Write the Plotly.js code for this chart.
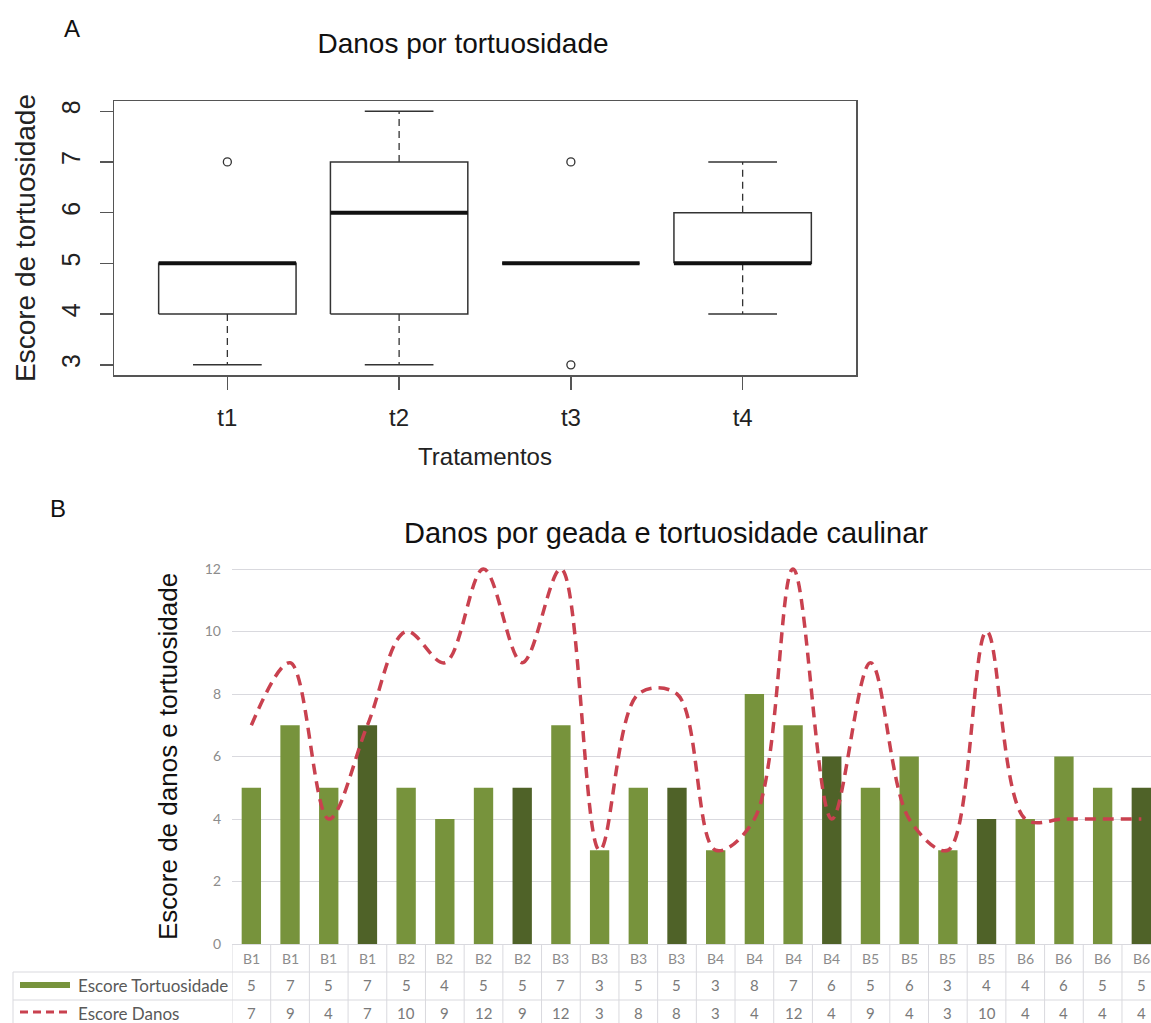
<!DOCTYPE html>
<html>
<head>
<meta charset="utf-8">
<script src="https://cdn.plot.ly/plotly-3.0.1.min.js"></script>
<style>
  html, body { margin: 0; padding: 0; background: #fff; overflow: hidden; }
  #chart { width: 1151px; height: 1023px; }
</style>
</head>
<body>
<div id="chart"></div>
<script>
// ---- Panel A: box-plot summaries of the tortuosity score per treatment ----
const treatments  = ['t1', 't2', 't3', 't4'];
const whiskerLow  = [3, 3, 5, 4];
const quartile1   = [4, 4, 5, 5];
const medians     = [5, 6, 5, 5];
const quartile3   = [5, 7, 5, 6];
const whiskerHigh = [5, 8, 5, 7];
const outlierTreatment = ['t1', 't3', 't3'];
const outlierValues    = [7, 3, 7];
const boxTicks = [3, 4, 5, 6, 7, 8];

// ---- Panel B: frost damage and stem tortuosity per plot ----
const blocks = ['B1','B1','B1','B1','B2','B2','B2','B2','B3','B3','B3','B3',
                'B4','B4','B4','B4','B5','B5','B5','B5','B6','B6','B6','B6'];
const escoreTortuosidade = [5,7,5,7,5,4,5,5,7,3,5,5,3,8,7,6,5,6,3,4,4,6,5,5];
const escoreDanos        = [7,9,4,7,10,9,12,9,12,3,8,8,3,4,12,4,9,4,3,10,4,4,4,4];
const damageTicks = [0, 2, 4, 6, 8, 10, 12];

// each block holds the four treatments in order
const barTreatment = blocks.map((b, i) => treatments[i % treatments.length]);
const treatmentColor = { t1: '#77933C', t2: '#77933C', t3: '#77933C', t4: '#4F6228' };

// ---- page geometry helpers (pixels -> paper fractions) ----
const W = 1151, H = 1023;
const px = v => v / W;
const py = v => 1 - v / H;

const SANS = 'Liberation Sans, Arial, sans-serif';
const CAL = 'Lato, Carlito, Calibri, sans-serif';

// ---- build box-plot geometry from the summaries ----
const BOX_HALF = 0.4, CAP_HALF = 0.2;
const boxX = [], boxY = [], medX = [], medY = [], whX = [], whY = [], capX = [], capY = [];
treatments.forEach((t, i) => {
  const c = i + 1;
  boxX.push(c - BOX_HALF, c + BOX_HALF, c + BOX_HALF, c - BOX_HALF, c - BOX_HALF, null);
  boxY.push(quartile1[i], quartile1[i], quartile3[i], quartile3[i], quartile1[i], null);
  medX.push(c - BOX_HALF, c + BOX_HALF, null);
  medY.push(medians[i], medians[i], null);
  whX.push(c, c, null, c, c, null);
  whY.push(quartile1[i], whiskerLow[i], null, quartile3[i], whiskerHigh[i], null);
  capX.push(c - CAP_HALF, c + CAP_HALF, null, c - CAP_HALF, c + CAP_HALF, null);
  capY.push(whiskerLow[i], whiskerLow[i], null, whiskerHigh[i], whiskerHigh[i], null);
});
const outX = outlierTreatment.map(t => treatments.indexOf(t) + 1);

const idx = blocks.map((b, i) => i);

const traces = [
  { type: 'scatter', mode: 'lines', x: whX, y: whY, xaxis: 'x', yaxis: 'y',
    line: { color: '#333', width: 1.3, dash: '7px,5px' }, hoverinfo: 'skip', showlegend: false },
  { type: 'scatter', mode: 'lines', x: capX, y: capY, xaxis: 'x', yaxis: 'y',
    line: { color: '#333', width: 1.5 }, hoverinfo: 'skip', showlegend: false },
  { type: 'scatter', mode: 'lines', x: boxX, y: boxY, xaxis: 'x', yaxis: 'y',
    line: { color: '#333', width: 1.5 }, hoverinfo: 'skip', showlegend: false },
  { type: 'scatter', mode: 'lines', x: medX, y: medY, xaxis: 'x', yaxis: 'y',
    line: { color: '#111', width: 4 }, hoverinfo: 'skip', showlegend: false },
  { type: 'scatter', mode: 'markers', x: outX, y: outlierValues, xaxis: 'x', yaxis: 'y',
    marker: { symbol: 'circle-open', size: 8, color: '#333', line: { width: 1.3 } },
    showlegend: false },
  { type: 'bar', name: 'Escore Tortuosidade', x: idx, y: escoreTortuosidade,
    xaxis: 'x2', yaxis: 'y2', width: 0.5,
    marker: { color: barTreatment.map(t => treatmentColor[t]) }, showlegend: false },
  { type: 'scatter', mode: 'lines', name: 'Escore Danos', x: idx, y: escoreDanos,
    xaxis: 'x2', yaxis: 'y2',
    line: { color: '#C9414F', width: 3.5, dash: '11px,7px', shape: 'spline', smoothing: 1 },
    showlegend: false }
];

// ---- data table under panel B ----
const annotations = [];
const ROW_CAT = 958, ROW_T = 985, ROW_D = 1013;
blocks.forEach((b, i) => {
  annotations.push({ x: i, y: py(ROW_CAT), xref: 'x2', yref: 'paper', text: b, showarrow: false,
    xanchor: 'center', yanchor: 'middle', font: { family: CAL, size: 14, color: '#8C8C8C' } });
  annotations.push({ x: i, y: py(ROW_T), xref: 'x2', yref: 'paper', text: String(escoreTortuosidade[i]),
    showarrow: false, xanchor: 'center', yanchor: 'middle', font: { family: CAL, size: 15, color: '#7A7A7A' } });
  annotations.push({ x: i, y: py(ROW_D), xref: 'x2', yref: 'paper', text: String(escoreDanos[i]),
    showarrow: false, xanchor: 'center', yanchor: 'middle', font: { family: CAL, size: 15, color: '#7A7A7A' } });
});
annotations.push(
  { x: px(76), y: py(ROW_T), xref: 'paper', yref: 'paper', text: 'Escore Tortuosidade', showarrow: false,
    xanchor: 'left', yanchor: 'middle', font: { family: CAL, size: 17, color: '#595959' } },
  { x: px(76), y: py(ROW_D), xref: 'paper', yref: 'paper', text: 'Escore Danos', showarrow: false,
    xanchor: 'left', yanchor: 'middle', font: { family: CAL, size: 17, color: '#595959' } },
  // panel letters and titles
  { x: px(72), y: py(29), xref: 'paper', yref: 'paper', text: 'A', showarrow: false,
    xanchor: 'center', yanchor: 'middle', font: { family: SANS, size: 24, color: '#111' } },
  { x: px(58), y: py(508), xref: 'paper', yref: 'paper', text: 'B', showarrow: false,
    xanchor: 'center', yanchor: 'middle', font: { family: SANS, size: 24, color: '#111' } },
  { x: px(666), y: py(533), xref: 'paper', yref: 'paper', text: 'Danos por geada e tortuosidade caulinar',
    showarrow: false, xanchor: 'center', yanchor: 'middle', font: { family: SANS, size: 29, color: '#111' } },
  { x: px(168), y: py(757), xref: 'paper', yref: 'paper', text: 'Escore de danos e tortuosidade',
    showarrow: false, textangle: -90, xanchor: 'center', yanchor: 'middle',
    font: { family: SANS, size: 26, color: '#111' } }
);

const GRID = '#D9D9DE';
const shapes = [];
for (let i = 0; i <= blocks.length; i++) {
  shapes.push({ type: 'line', xref: 'x2', yref: 'paper', x0: i - 0.5, x1: i - 0.5,
    y0: py(944), y1: py(1023), line: { color: GRID, width: 1 } });
}
[972, 1000].forEach(yy => shapes.push({ type: 'line', xref: 'paper', yref: 'paper',
  x0: px(13), x1: 1, y0: py(yy), y1: py(yy), line: { color: GRID, width: 1 } }));
shapes.push({ type: 'line', xref: 'paper', yref: 'paper', x0: px(13), x1: px(13),
  y0: py(972), y1: py(1023), line: { color: GRID, width: 1 } });
// legend keys inside the table
shapes.push({ type: 'rect', xref: 'paper', yref: 'paper', x0: px(20), x1: px(70),
  y0: py(988), y1: py(982), fillcolor: '#77933C', line: { width: 0 } });
shapes.push({ type: 'line', xref: 'paper', yref: 'paper', x0: px(20), x1: px(68),
  y0: py(1012), y1: py(1012), line: { color: '#C9414F', width: 3, dash: '8px,5px' } });

const layout = {
  width: W, height: H,
  margin: { l: 0, r: 0, t: 0, b: 0 },
  paper_bgcolor: '#fff', plot_bgcolor: '#fff',
  showlegend: false,
  font: { family: SANS, color: '#111' },
  title: { text: 'Danos por tortuosidade', x: px(463), xref: 'paper', xanchor: 'center',
    y: py(43), yref: 'paper', yanchor: 'middle', font: { family: SANS, size: 28, color: '#111' } },
  xaxis: {
    domain: [px(114), px(856)], range: [0.34, 4.66], anchor: 'y',
    tickvals: treatments.map((t, i) => i + 1), ticktext: treatments,
    showline: true, mirror: true, linecolor: '#555', linewidth: 1.5,
    ticks: 'outside', ticklen: 13, tickwidth: 1.3, tickcolor: '#555',
    ticklabelstandoff: 8,
    tickfont: { family: SANS, size: 24, color: '#222' },
    showgrid: false, zeroline: false,
    title: { text: 'Tratamentos', standoff: 18, font: { family: SANS, size: 24, color: '#222' } }
  },
  yaxis: {
    domain: [py(375), py(101)], range: [2.8, 8.2], anchor: 'x',
    tickvals: boxTicks, tickangle: -90,
    showline: true, mirror: true, linecolor: '#555', linewidth: 1.5,
    ticks: 'outside', ticklen: 13, tickwidth: 1.3, tickcolor: '#555',
    ticklabelstandoff: 10,
    tickfont: { family: SANS, size: 25, color: '#222' },
    showgrid: false, zeroline: false,
    title: { text: 'Escore de tortuosidade', standoff: 12, font: { family: SANS, size: 28, color: '#222' } }
  },
  xaxis2: {
    domain: [px(232), 1], range: [-0.5, 23.25], anchor: 'y2',
    showticklabels: false, ticks: '', showgrid: false, zeroline: false,
    showline: true, linecolor: GRID, linewidth: 1
  },
  yaxis2: {
    domain: [py(944), py(556.5)], range: [0, 12.4], anchor: 'x2',
    tickvals: damageTicks, ticks: '', showline: false, zeroline: false,
    gridcolor: GRID, gridwidth: 1,
    ticklabelstandoff: 10,
    tickfont: { family: CAL, size: 14, color: '#8C8C8C' }
  },
  annotations: annotations,
  shapes: shapes
};

Plotly.newPlot('chart', traces, layout, { staticPlot: true, displayModeBar: false });
</script>
</body>
</html>
